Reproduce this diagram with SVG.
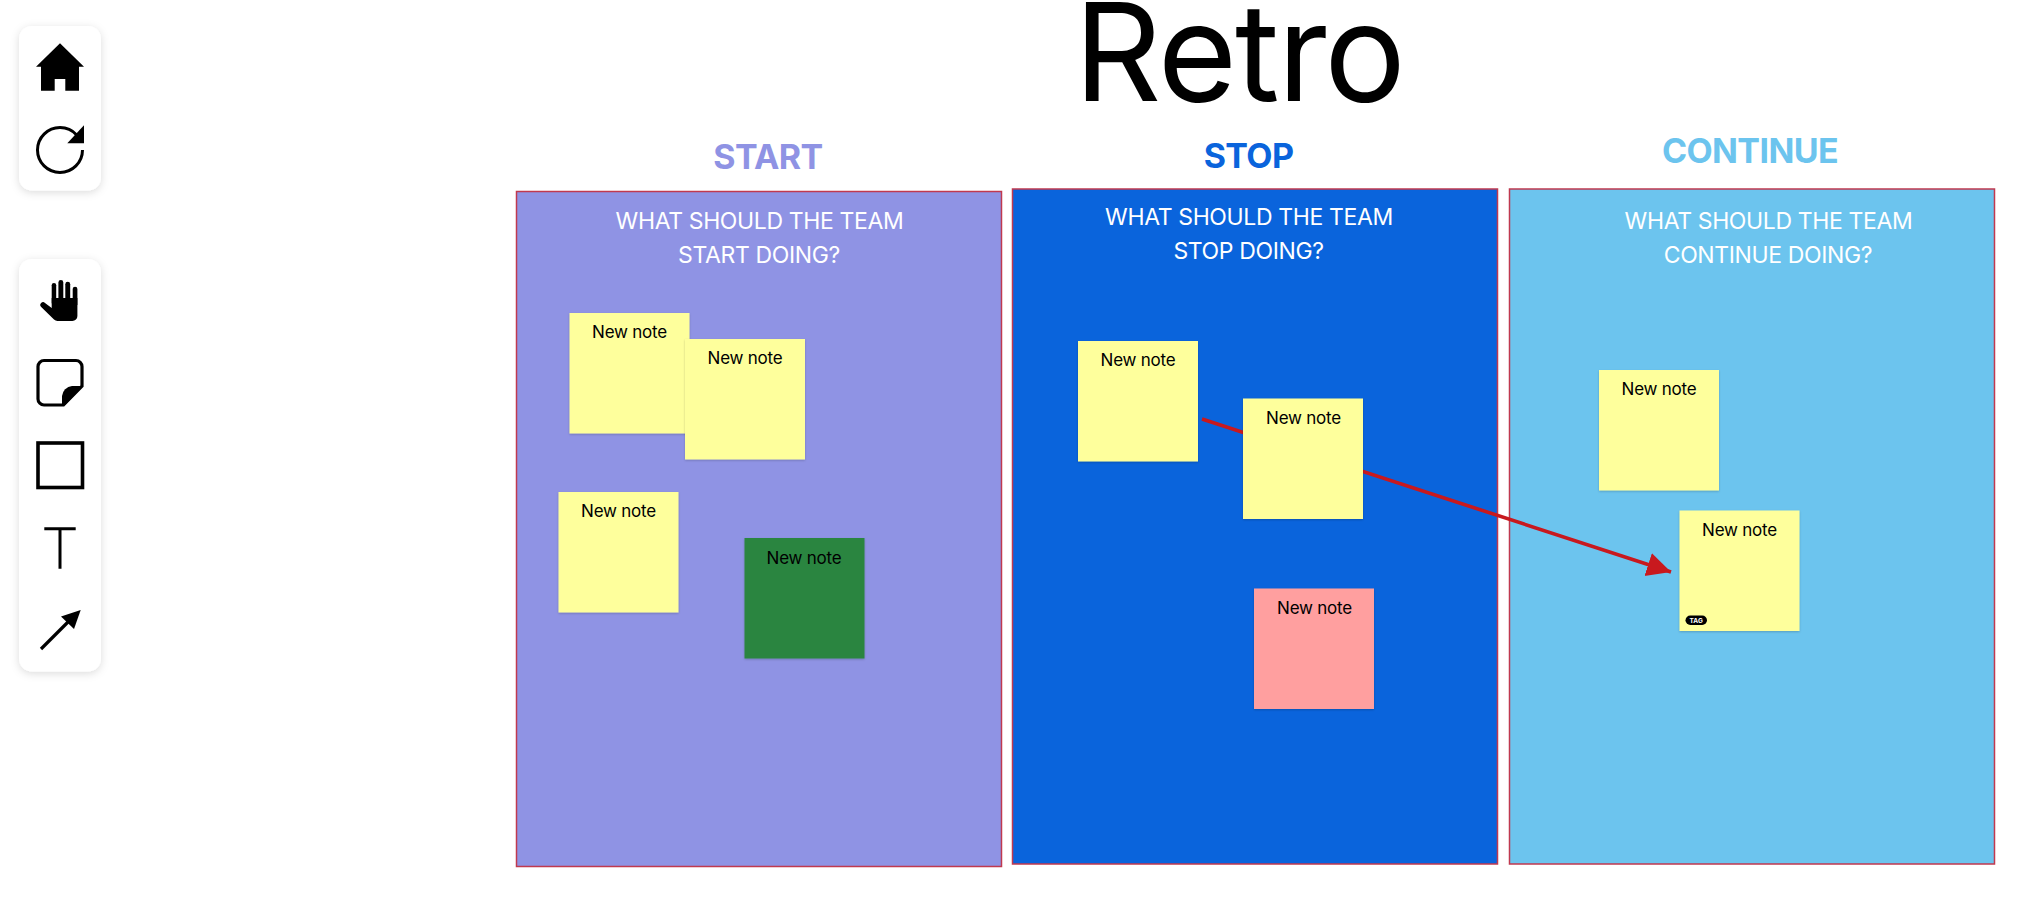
<svg xmlns="http://www.w3.org/2000/svg" width="2042" height="900" viewBox="0 0 2042 900">
<style>
text{font-family:Inter,"Liberation Sans",sans-serif;text-anchor:middle}
.head{font-size:34px;font-weight:700;letter-spacing:-.6px}
.q{font-size:23px;fill:#fff;letter-spacing:-.37px}
.panel{stroke:#c0394f;stroke-width:1.5}
.note{filter:url(#ns)}
.lbl{font-size:17px;fill:#000;letter-spacing:-.22px}
.tb{fill:#fff;filter:url(#ts)}
</style>
<defs>
<filter id="ts" x="-30%" y="-30%" width="160%" height="160%"><feDropShadow dx="0" dy="2" stdDeviation="4" flood-color="#000" flood-opacity=".14"/></filter>
<filter id="ns" x="-10%" y="-10%" width="120%" height="120%"><feDropShadow dx="0" dy="1" stdDeviation="1" flood-color="#000" flood-opacity=".2"/></filter>
<marker id="ah" markerUnits="userSpaceOnUse" markerWidth="28" markerHeight="28" refX="24" refY="12" orient="auto"><path d="M0 0L24 12L0 24Z" fill="#c8191e"/></marker>
</defs>
<rect width="2042" height="900" fill="#fff"/>
<g id="toolbar-top">
<rect class="tb" x="19" y="26" width="82" height="164.500" rx="13"/>
<path d="M60 43.300L84 66.700H79V90.700H65.300V79H54.700V90.700H41V66.700H36Z"/>
<circle cx="60" cy="150" r="22.500" fill="none" stroke="#000" stroke-width="3" stroke-dasharray="124 17.400"/>
<path d="M84 125.300V143.300H67.300Z"/>
</g>
<g id="toolbar-tools">
<rect class="tb" x="19" y="259" width="82" height="412.500" rx="13"/>
<g id="tool-hand"><rect x="51.700" y="283" width="4.500" height="22" rx="2.250"/><rect x="58.400" y="280" width="4.900" height="25" rx="2.450"/><rect x="65.300" y="281.700" width="4.900" height="23" rx="2.450"/><rect x="72.700" y="286.700" width="4.700" height="20" rx="2.350"/><path d="M51.700 298H77.400V316a5 5 0 0 1-5 5H57.500a5 5 0 0 1-3.500-1.500L41.200 307a2.500 2.500 0 0 1 3.800-4L51.700 308Z"/></g>
<g id="tool-note"><path d="M44 360.500H76a6 6 0 0 1 6 6V386L63.500 405H44a6 6 0 0 1-6-6V366.500a6 6 0 0 1 6-6Z" fill="none" stroke="#000" stroke-width="3.200"/><path d="M62 405V396a11 11 0 0 1 10-10H83L65 405Z"/></g>
<rect id="tool-rect" x="38" y="443" width="44.500" height="44.500" fill="none" stroke="#000" stroke-width="3.600"/>
<path id="tool-text" d="M44.300 528.700H75.700M60 528.700V568.700" fill="none" stroke="#000" stroke-width="3"/>
<g id="tool-arrow"><path d="M41 649L68 622" stroke="#000" stroke-width="3.200"/><path d="M80.700 610L61 616.500L74 629Z"/></g>
</g>
<text x="1239" y="101" font-size="136" letter-spacing="-2" fill="#000">Retro</text>
<text class="head" x="768" y="169" fill="#8f93e4">START</text>
<text class="head" x="1248.500" y="168" fill="#0a64dc">STOP</text>
<text class="head" x="1750" y="163" fill="#6cc4ee">CONTINUE</text>
<g id="panel-start"><rect class="panel" x="516.500" y="191.500" width="485" height="675" fill="#8f93e4"/><text class="q" x="759.500" y="229">WHAT SHOULD THE TEAM</text><text class="q" x="759" y="263">START DOING?</text></g>
<g id="panel-stop"><rect class="panel" x="1012.500" y="189" width="485" height="675" fill="#0a64dc"/><text class="q" x="1249" y="225">WHAT SHOULD THE TEAM</text><text class="q" x="1248.500" y="259">STOP DOING?</text></g>
<g id="panel-continue"><rect class="panel" x="1509.500" y="189" width="485" height="675" fill="#6cc4ee"/><text class="q" x="1768.500" y="229">WHAT SHOULD THE TEAM</text><text class="q" x="1768" y="263">CONTINUE DOING?</text></g>
<g id="connectors"><path d="M1202 419L1671 572" fill="none" stroke="#c8191e" stroke-width="3.600" marker-end="url(#ah)"/></g>
<g id="note-1"><rect class="note" x="569.500" y="313" width="120" height="120.500" fill="#feff9c"/><text class="lbl" x="629.500" y="338">New note</text></g>
<g id="note-2"><rect class="note" x="685" y="339" width="120" height="120.500" fill="#feff9c"/><text class="lbl" x="745" y="364">New note</text></g>
<g id="note-3"><rect class="note" x="558.500" y="492" width="120" height="120.500" fill="#feff9c"/><text class="lbl" x="618.500" y="516.500">New note</text></g>
<g id="note-4"><rect class="note" x="744.500" y="538" width="120" height="120.500" fill="#2a853f"/><text class="lbl" x="804" y="563.500">New note</text></g>
<g id="note-5"><rect class="note" x="1078" y="341" width="120" height="120.500" fill="#feff9c"/><text class="lbl" x="1138" y="366">New note</text></g>
<g id="note-6"><rect class="note" x="1243" y="398.500" width="120" height="120.500" fill="#feff9c"/><text class="lbl" x="1303.500" y="424">New note</text></g>
<g id="note-7"><rect class="note" x="1254" y="588.500" width="120" height="120.500" fill="#ff9f9f"/><text class="lbl" x="1314.500" y="613.500">New note</text></g>
<g id="note-8"><rect class="note" x="1599" y="370" width="120" height="120.500" fill="#feff9c"/><text class="lbl" x="1659" y="395">New note</text></g>
<g id="note-9"><rect class="note" x="1679.500" y="510.500" width="120" height="120.500" fill="#feff9c"/><text class="lbl" x="1739.500" y="536">New note</text><rect x="1685.500" y="615.500" width="21.500" height="9.500" rx="4.750" fill="#000"/><text x="1696.200" y="622.500" font-size="6.500" font-weight="700" fill="#fff">TAG</text></g>
</svg>
